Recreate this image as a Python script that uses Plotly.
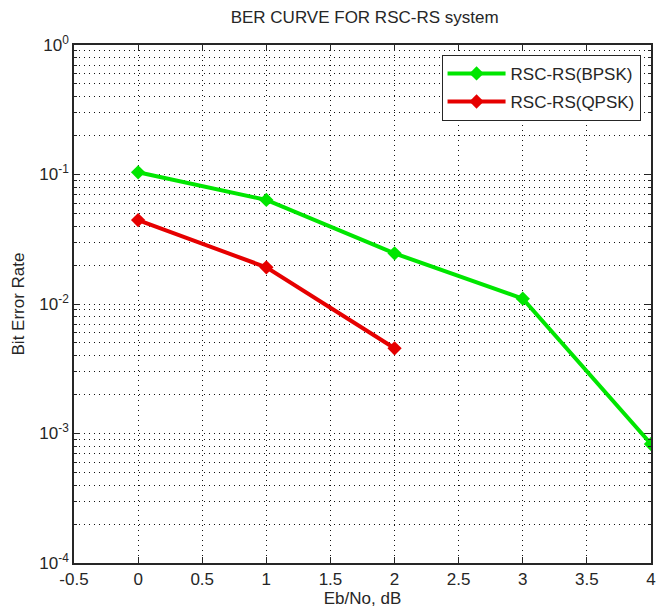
import plotly.graph_objects as go

ebno = [0, 1, 2, 3, 4]
ber_bpsk = [0.104, 0.0636, 0.0246, 0.0110, 0.00083]
ebno_q = [0, 1, 2]
ber_qpsk = [0.0445, 0.0192, 0.00455]

x_ticks = [-0.5, 0, 0.5, 1, 1.5, 2, 2.5, 3, 3.5, 4]
x_ticktext = ["-0.5", "0", "0.5", "1", "1.5", "2", "2.5", "3", "3.5", "4"]
y_exps = [-4, -3, -2, -1, 0]

y_ticks = [10.0 ** e for e in y_exps]
y_ticktext = ["10<sup>%d</sup>" % e for e in y_exps]
y_minor = [k * 10.0 ** e for e in y_exps[:-1] for k in range(2, 10)]

font = "Liberation Sans, Arial, sans-serif"
ink = "#262626"
dots = "1px,4px"

fig = go.Figure()
fig.add_trace(go.Scatter(
    x=ebno, y=ber_bpsk, mode="lines+markers", name="RSC-RS(BPSK)",
    legendgroup="a",
    line=dict(color="#00e600", width=4),
    marker=dict(symbol="diamond", size=11, color="#00e600"),
))
fig.add_trace(go.Scatter(
    x=ebno_q, y=ber_qpsk, mode="lines+markers", name="RSC-RS(QPSK)",
    legendgroup="b",
    line=dict(color="#e60000", width=4),
    marker=dict(symbol="diamond", size=11, color="#e60000"),
))

fig.update_layout(
    width=657, height=616,
    margin=dict(l=74, r=1, t=45, b=53),
    paper_bgcolor="white", plot_bgcolor="white",
    font=dict(family=font, color=ink, size=17),
    title=dict(text="BER CURVE FOR RSC-RS system", x=0.555, xanchor="center",
               y=1 - 17 / 616, yanchor="middle", font=dict(size=17, color=ink)),
    showlegend=True,
    legend=dict(x=0.637, y=0.981, xanchor="left", yanchor="top",
                bgcolor="white", bordercolor=ink, borderwidth=1,
                traceorder="grouped", tracegroupgap=3, itemwidth=58,
                font=dict(size=17, color=ink)),
)

fig.update_xaxes(
    range=[-0.5, 4], tickmode="array", tickvals=x_ticks, ticktext=x_ticktext,
    showline=True, linecolor=ink, linewidth=1.5, mirror="allticks",
    ticks="inside", ticklen=6, tickcolor=ink, ticklabeloverflow="allow",
    showgrid=True, gridcolor="#111", gridwidth=1, griddash=dots,
    zeroline=False, tickfont=dict(size=17),
    title=dict(text="Eb/No, dB", font=dict(size=17), standoff=4),
)
fig.update_yaxes(
    type="log", range=[-4, 0], tickmode="array", tickvals=y_ticks, ticktext=y_ticktext,
    showline=True, linecolor=ink, linewidth=1.5, mirror="allticks",
    ticks="inside", ticklen=6, tickcolor=ink,
    showgrid=True, gridcolor="#111", gridwidth=1, griddash=dots,
    minor=dict(tickvals=y_minor, ticks="inside", ticklen=3, tickcolor=ink,
               showgrid=True, gridcolor="#111", gridwidth=1, griddash=dots),
    zeroline=False, tickfont=dict(size=17),
    title=dict(text="Bit Error Rate", font=dict(size=17), standoff=10),
)

fig.write_html(
    "out.html",
    config={"displayModeBar": False},
    post_script="document.body.style.margin='0';document.body.style.overflow='hidden';",
)
